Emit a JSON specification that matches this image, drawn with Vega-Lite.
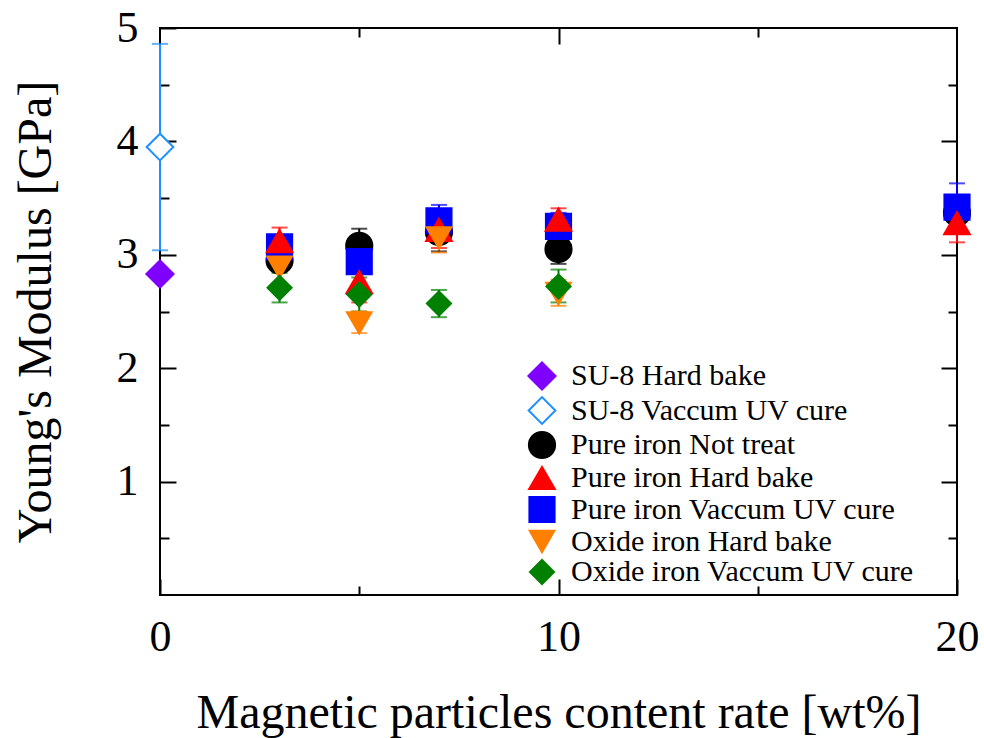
{
  "$schema": "https://vega.github.io/schema/vega-lite/v6.json",
  "width": 797,
  "height": 567,
  "autosize": "none",
  "padding": {"left": 160, "top": 28, "right": 27, "bottom": 143},
  "background": "white",
  "config": {
    "view": {"stroke": "black", "strokeWidth": 2},
    "font": "Liberation Serif",
    "axis": {
      "labelFont": "Liberation Serif",
      "titleFont": "Liberation Serif",
      "labelColor": "black",
      "titleColor": "black",
      "tickColor": "black",
      "tickWidth": 2,
      "domain": false,
      "grid": false,
      "titleFontWeight": "normal"
    },
    "legend": {
      "labelFont": "Liberation Serif",
      "labelFontSize": 30,
      "labelColor": "black",
      "labelOffset": 14,
      "rowPadding": -1.5,
      "symbolStrokeWidth": 2,
      "padding": 0,
      "labelLimit": 500
    }
  },
  "data": {
    "values": [
      {"series": "SU-8 Hard bake", "x": 0, "y": 2.83, "lo": 2.83, "hi": 2.83},
      {"series": "SU-8 Vaccum UV cure", "x": 0, "y": 3.95, "lo": 3.04, "hi": 4.86},
      {"series": "Pure iron Not treat", "x": 3, "y": 2.95, "lo": 2.87, "hi": 3.03},
      {"series": "Pure iron Not treat", "x": 5, "y": 3.08, "lo": 2.93, "hi": 3.23},
      {"series": "Pure iron Not treat", "x": 7, "y": 3.2, "lo": 3.03, "hi": 3.37},
      {"series": "Pure iron Not treat", "x": 10, "y": 3.05, "lo": 2.92, "hi": 3.18},
      {"series": "Pure iron Not treat", "x": 20, "y": 3.37, "lo": 3.25, "hi": 3.49},
      {"series": "Pure iron Vaccum UV cure", "x": 3, "y": 3.07, "lo": 2.99, "hi": 3.15},
      {"series": "Pure iron Vaccum UV cure", "x": 5, "y": 2.94, "lo": 2.86, "hi": 3.02},
      {"series": "Pure iron Vaccum UV cure", "x": 7, "y": 3.3, "lo": 3.16, "hi": 3.44},
      {"series": "Pure iron Vaccum UV cure", "x": 10, "y": 3.25, "lo": 3.12, "hi": 3.37},
      {"series": "Pure iron Vaccum UV cure", "x": 20, "y": 3.42, "lo": 3.2, "hi": 3.63},
      {"series": "Pure iron Hard bake", "x": 3, "y": 3.12, "lo": 3.01, "hi": 3.24},
      {"series": "Pure iron Hard bake", "x": 5, "y": 2.76, "lo": 2.58, "hi": 2.95},
      {"series": "Pure iron Hard bake", "x": 7, "y": 3.22, "lo": 3.06, "hi": 3.37},
      {"series": "Pure iron Hard bake", "x": 10, "y": 3.31, "lo": 3.2, "hi": 3.41},
      {"series": "Pure iron Hard bake", "x": 20, "y": 3.28, "lo": 3.11, "hi": 3.46},
      {"series": "Oxide iron Hard bake", "x": 3, "y": 2.89, "lo": 2.75, "hi": 3.03},
      {"series": "Oxide iron Hard bake", "x": 5, "y": 2.4, "lo": 2.31, "hi": 2.5},
      {"series": "Oxide iron Hard bake", "x": 7, "y": 3.15, "lo": 3.02, "hi": 3.3},
      {"series": "Oxide iron Hard bake", "x": 10, "y": 2.66, "lo": 2.55, "hi": 2.78},
      {"series": "Oxide iron Vaccum UV cure", "x": 3, "y": 2.71, "lo": 2.58, "hi": 2.84},
      {"series": "Oxide iron Vaccum UV cure", "x": 5, "y": 2.65, "lo": 2.5, "hi": 2.8},
      {"series": "Oxide iron Vaccum UV cure", "x": 7, "y": 2.57, "lo": 2.45, "hi": 2.69},
      {"series": "Oxide iron Vaccum UV cure", "x": 10, "y": 2.72, "lo": 2.58, "hi": 2.87}
    ]
  },
  "resolve": {"axis": {"x": "independent", "y": "independent"}},
  "layer": [
    {
      "mark": {"type": "rule", "strokeWidth": 2},
      "encoding": {
        "x": {
          "field": "x", "type": "quantitative",
          "scale": {"domain": [0, 20], "nice": false, "zero": false},
          "axis": {
            "orient": "bottom",
            "title": "Magnetic particles content rate [wt%]",
            "titleFontSize": 48,
            "titlePadding": 30,
            "values": [0, 5, 10, 15, 20],
            "labelExpr": "datum.value % 10 === 0 ? '' + datum.value : ''",
            "labelFontSize": 44,
            "labelPadding": 36,
            "tickSize": {"condition": {"test": "datum.value % 10 === 0", "value": -16}, "value": -9},
            "labelFlush": false
          }
        },
        "y": {
          "field": "lo", "type": "quantitative",
          "scale": {"domain": [0, 5], "nice": false, "zero": false},
          "axis": {
            "orient": "left",
            "title": "Young's Modulus [GPa]",
            "titleFontSize": 48,
            "titlePadding": 56,
            "values": [0.5, 1, 1.5, 2, 2.5, 3, 3.5, 4, 4.5, 5],
            "labelExpr": "datum.value % 1 === 0 ? '' + datum.value : ''",
            "labelFontSize": 44,
            "labelPadding": 38,
            "tickSize": {"condition": {"test": "datum.value % 1 === 0", "value": -16}, "value": -9},
            "labelFlush": false
          }
        },
        "y2": {"field": "hi"},
        "color": {
          "field": "series", "type": "nominal", "legend": null,
          "scale": {
            "domain": ["Oxide iron Vaccum UV cure", "Oxide iron Hard bake", "Pure iron Vaccum UV cure", "Pure iron Hard bake", "Pure iron Not treat", "SU-8 Vaccum UV cure", "SU-8 Hard bake"],
            "range": ["#008000", "#FF8000", "#0000FF", "#FF0000", "#000000", "#1E90FF", "#8000FF"]
          }
        }
      }
    },
    {
      "mark": {"type": "tick", "orient": "horizontal", "size": 16, "thickness": 2},
      "encoding": {
        "x": {
          "field": "x", "type": "quantitative",
          "axis": {
            "orient": "top", "title": null, "labels": false,
            "values": [5, 10, 15],
            "tickSize": {"condition": {"test": "datum.value % 10 === 0", "value": -16}, "value": -9}
          }
        },
        "y": {
          "field": "lo", "type": "quantitative",
          "axis": {
            "orient": "right", "title": null, "labels": false,
            "values": [0.5, 1, 1.5, 2, 2.5, 3, 3.5, 4, 4.5],
            "tickSize": {"condition": {"test": "datum.value % 1 === 0", "value": -16}, "value": -9}
          }
        },
        "color": {"field": "series", "type": "nominal", "legend": null}
      }
    },
    {
      "mark": {"type": "tick", "orient": "horizontal", "size": 16, "thickness": 2},
      "encoding": {
        "x": {"field": "x", "type": "quantitative", "axis": null},
        "y": {"field": "hi", "type": "quantitative", "axis": null},
        "color": {"field": "series", "type": "nominal", "legend": null}
      }
    },
    {
      "mark": {"type": "point", "strokeWidth": 2, "opacity": 1, "fillOpacity": 1},
      "encoding": {
        "x": {"field": "x", "type": "quantitative", "axis": null},
        "y": {"field": "y", "type": "quantitative", "axis": null},
        "shape": {
          "field": "series", "type": "nominal",
          "scale": {
            "domain": ["SU-8 Hard bake", "SU-8 Vaccum UV cure", "Pure iron Not treat", "Pure iron Hard bake", "Pure iron Vaccum UV cure", "Oxide iron Hard bake", "Oxide iron Vaccum UV cure"],
            "range": ["diamond", "diamond", "circle", "triangle-up", "square", "triangle-down", "diamond"]
          },
          "legend": {"title": null, "orient": "none", "legendX": 367, "legendY": 333, "labelFont": "Liberation Serif"}
        },
        "fill": {
          "field": "series", "type": "nominal",
          "scale": {
            "domain": ["SU-8 Hard bake", "SU-8 Vaccum UV cure", "Pure iron Not treat", "Pure iron Hard bake", "Pure iron Vaccum UV cure", "Oxide iron Hard bake", "Oxide iron Vaccum UV cure"],
            "range": ["#8000FF", "#FFFFFF", "#000000", "#FF0000", "#0000FF", "#FF8000", "#008000"]
          },
          "legend": {"title": null, "orient": "none", "legendX": 367, "legendY": 333, "labelFont": "Liberation Serif"}
        },
        "stroke": {
          "field": "series", "type": "nominal",
          "scale": {
            "domain": ["SU-8 Hard bake", "SU-8 Vaccum UV cure", "Pure iron Not treat", "Pure iron Hard bake", "Pure iron Vaccum UV cure", "Oxide iron Hard bake", "Oxide iron Vaccum UV cure"],
            "range": ["#8000FF", "#1E90FF", "#000000", "#FF0000", "#0000FF", "#FF8000", "#008000"]
          },
          "legend": {"title": null, "orient": "none", "legendX": 367, "legendY": 333, "labelFont": "Liberation Serif"}
        },
        "size": {
          "field": "series", "type": "nominal",
          "scale": {
            "domain": ["SU-8 Hard bake", "SU-8 Vaccum UV cure", "Pure iron Not treat", "Pure iron Hard bake", "Pure iron Vaccum UV cure", "Oxide iron Hard bake", "Oxide iron Vaccum UV cure"],
            "range": [740, 580, 240, 340, 260, 340, 740]
          },
          "legend": {"title": null, "orient": "none", "legendX": 367, "legendY": 333, "labelFont": "Liberation Serif"}
        }
      }
    }
  ]
}
